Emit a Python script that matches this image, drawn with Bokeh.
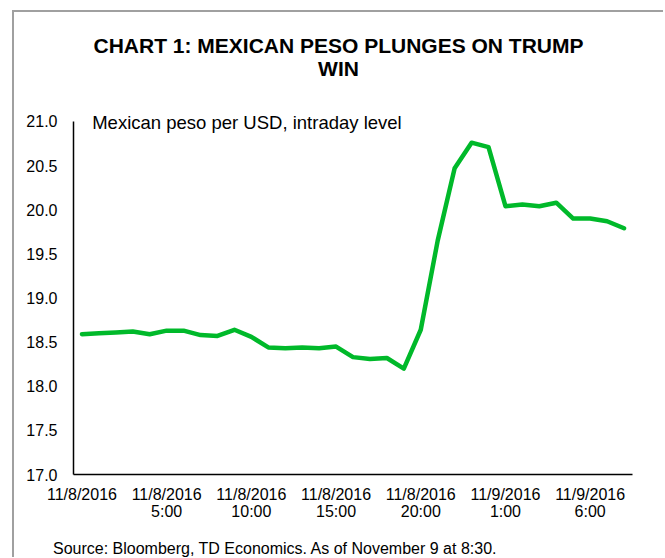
from bokeh.plotting import figure
from bokeh.layouts import column
from bokeh.models import Label, FixedTicker, PrintfTickFormatter, ColumnDataSource, Div
from bokeh.embed import file_html
from bokeh.resources import INLINE

# ---- data (hourly intraday level, 11/8/2016 0:00 .. 11/9/2016 8:00) ----
hour_index = list(range(33))
peso_per_usd = [18.59, 18.60, 18.61, 18.62, 18.59, 18.63, 18.63, 18.58, 18.57, 18.64,
                18.56, 18.44, 18.43, 18.44, 18.43, 18.45, 18.33, 18.31, 18.32, 18.20,
                18.64, 19.65, 20.47, 20.76, 20.71, 20.04, 20.06, 20.04, 20.08, 19.90,
                19.90, 19.87, 19.79]
x_tick_pos = [0, 5, 10, 15, 20, 25, 30]
x_tick_labels = ["11/8/2016", "11/8/2016\n5:00", "11/8/2016\n10:00", "11/8/2016\n15:00",
                 "11/8/2016\n20:00", "11/9/2016\n1:00", "11/9/2016\n6:00"]
y_ticks = [17.0, 17.5, 18.0, 18.5, 19.0, 19.5, 20.0, 20.5, 21.0]

title_text = "CHART 1: MEXICAN PESO PLUNGES ON TRUMP\nWIN"
series_label = "Mexican peso per USD, intraday level"
source_text = "Source: Bloomberg, TD Economics. As of November 9 at 8:30."

FONT = "Liberation Sans"
BORDER = "2px solid #a0a0a0"

# main chart: canvas starts at page (14, 12) because of the box border drawn via CSS
W, H = 651, 530
p = figure(width=W, height=H, output_backend="svg", toolbar_location=None,
           x_range=(-0.5, 32.5), y_range=(17.0, 22.235),
           min_border_left=59, min_border_right=33, min_border_top=0, min_border_bottom=68)
p.margin = (10, 0, 0, 12)
p.styles = {"border-top": BORDER, "border-left": BORDER}
p.outline_line_color = None
p.background_fill_color = "white"
p.border_fill_color = "white"
p.xgrid.visible = False
p.ygrid.visible = False

src = ColumnDataSource(dict(x=hour_index, y=peso_per_usd))
p.line("x", "y", source=src, line_color="#00B92A", line_width=4.5,
       line_join="round", line_cap="round")

# axes
p.yaxis.ticker = FixedTicker(ticks=y_ticks)
p.yaxis.formatter = PrintfTickFormatter(format="%.1f")
p.yaxis.bounds = (17.0, 21.0)
p.xaxis.ticker = FixedTicker(ticks=x_tick_pos)
p.xaxis.major_label_overrides = {k: v for k, v in zip(x_tick_pos, x_tick_labels)}
for ax in (p.xaxis[0], p.yaxis[0]):
    ax.axis_line_color = "black"
    ax.axis_line_width = 1.5
    ax.major_tick_line_color = None
    ax.minor_tick_line_color = None
    ax.major_label_text_font = FONT
    ax.major_label_text_font_size = "16px"
    ax.major_label_text_color = "black"
p.yaxis.major_label_standoff = 10
p.xaxis.major_label_standoff = 5
p.xaxis.major_label_text_line_height = 1.05

# title and series label inside the (extended) frame
p.add_layout(Label(x=265, y=441, x_units="screen", y_units="screen",
                   text=title_text, text_font=FONT, text_font_size="21px",
                   text_font_style="bold", text_align="center", text_baseline="top",
                   text_line_height=1.0, text_color="black"))
p.add_layout(Label(x=18.7, y=352, x_units="screen", y_units="screen",
                   text=series_label, text_font=FONT, text_font_size="18.5px",
                   text_align="left", text_baseline="middle", text_color="black"))

# source strip at the bottom of the box
src_div = Div(text=source_text, width=W, height=17, margin=(0, 0, 0, 12),
              styles={"border-left": BORDER, "font-family": FONT, "font-size": "16px",
                      "line-height": "16px", "color": "black", "padding-left": "39px",
                      "padding-top": "1px", "background": "white", "white-space": "nowrap"})

layout = column(p, src_div, spacing=0)
open("out.html", "w").write(file_html(layout, INLINE))
